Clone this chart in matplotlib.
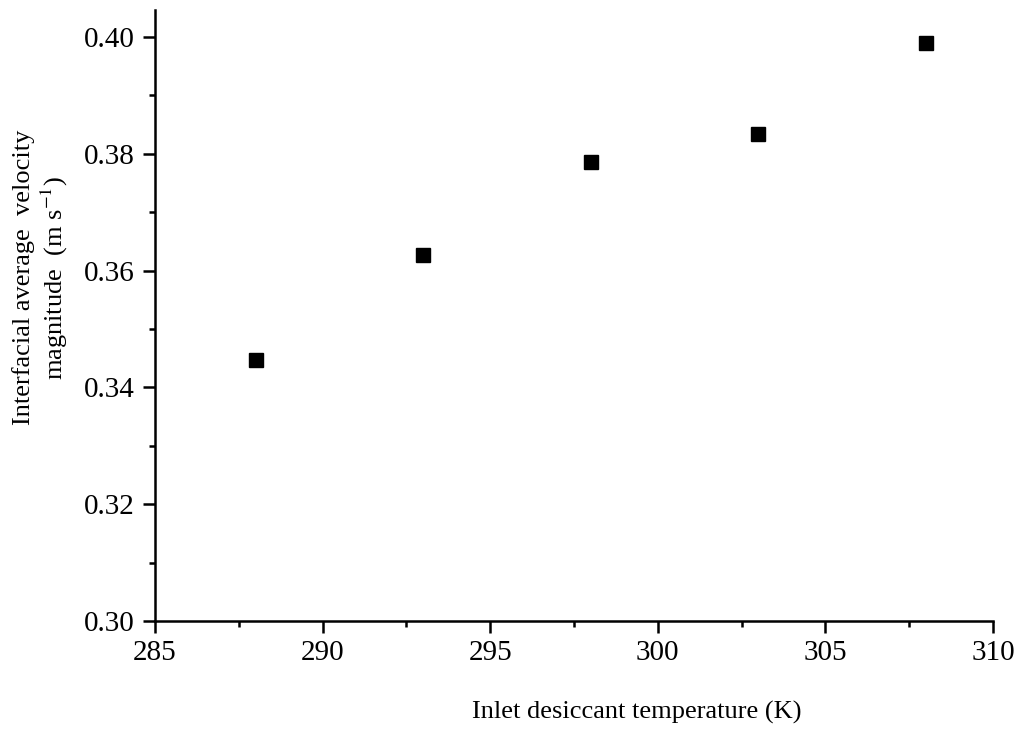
import matplotlib.pyplot as plt
from matplotlib.ticker import MultipleLocator

plt.rcParams['font.family'] = ['Liberation Serif', 'DejaVu Serif']
plt.rcParams['mathtext.fontset'] = 'stix'

# inlet desiccant temperature (K) vs interfacial average velocity (m/s)
temperature = [288, 293, 298, 303, 308]
velocity = [0.3447, 0.3626, 0.3785, 0.3834, 0.3990]

fig = plt.figure(figsize=(10.25, 7.31), dpi=100)
ax = fig.add_axes([0.1512, 0.1505, 0.8176, 0.8358])

ax.plot(temperature, velocity, linestyle='none', marker='s', markersize=9.8, color='black')

ax.set_xlim(285, 310)
ax.set_ylim(0.30, 0.4046)
ax.xaxis.set_major_locator(MultipleLocator(5))
ax.xaxis.set_minor_locator(MultipleLocator(2.5))
ax.yaxis.set_major_locator(MultipleLocator(0.02))
ax.yaxis.set_minor_locator(MultipleLocator(0.01))
ax.yaxis.set_major_formatter(plt.FormatStrFormatter('%.2f'))

for side in ['top', 'right']:
    ax.spines[side].set_visible(False)
for side in ['left', 'bottom']:
    ax.spines[side].set_linewidth(1.8)

ax.tick_params(which='major', direction='out', length=8.5, width=1.8, labelsize=21)
ax.tick_params(which='minor', direction='out', length=4.5, width=1.8)
ax.tick_params(axis='x', which='major', pad=5)
ax.tick_params(axis='y', which='major', pad=6)

fig.text(0.6215, 0.0164, 'Inlet desiccant temperature (K)', fontsize=19,
         ha='center', va='baseline')
fig.text(0.040, 0.62, 'Interfacial average  velocity\nmagnitude  (m s$^{-1}$)', fontsize=19,
         rotation=90, ha='center', va='center', multialignment='center')

fig.savefig('out.png', dpi=100)
